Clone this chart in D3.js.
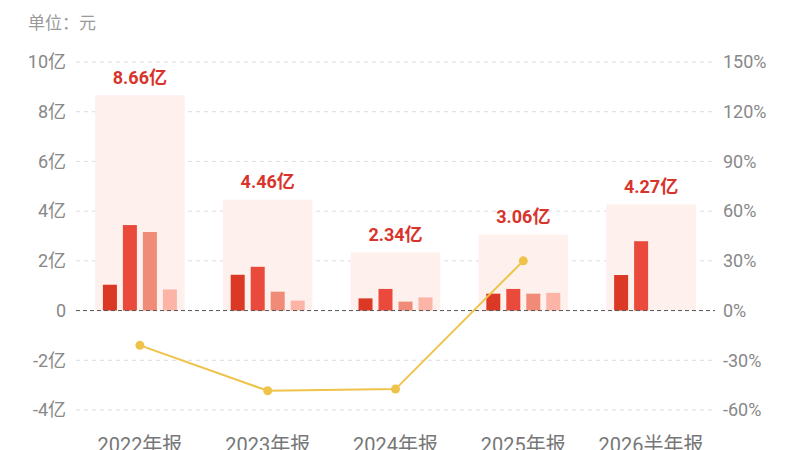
<!DOCTYPE html>
<html lang="zh">
<head>
    <meta charset="UTF-8">
    <title>利润柱状图</title>
    <script src="https://cdnjs.cloudflare.com/ajax/libs/d3/7.8.5/d3.min.js"></script>
    <style>
        body {
            margin: 0;
            padding: 0;
            background: #ffffff;
            font-family: Roboto, "Noto Sans CJK SC", sans-serif;
        }
        .grid line { stroke: #dddddd; stroke-dasharray: 4,4; }
        .zero-line { stroke: #555555; stroke-dasharray: 4,3; }
        .tick-label { fill: #888888; font-size: 18px; }
        .x-label { fill: #777777; font-size: 20px; }
        .total-label { fill: #d9342b; font-size: 18px; font-weight: bold; }
    </style>
</head>
<body>
    <div id="chart"></div>
    <script>
        // 数据
        const categories = ["2022年报", "2023年报", "2024年报", "2025年报", "2026半年报"];
        const totals = [8.66, 4.46, 2.34, 3.06, 4.27];
        const seriesA = [1.04, 1.44, 0.49, 0.68, 1.43];
        const seriesB = [3.44, 1.76, 0.87, 0.87, 2.79];
        const seriesC = [3.16, 0.76, 0.36, 0.68, null];
        const seriesD = [0.85, 0.40, 0.53, 0.71, null];
        const growth = [-21, -48.4, -47.4, 30, null];

        const leftTicks = [-4, -2, 0, 2, 4, 6, 8, 10];
        const rightTicks = [-60, -30, 0, 30, 60, 90, 120, 150];

        const barColors = ["#dc3826", "#e94a3b", "#f08b77", "#fbb4a6"];
        const allSeries = [seriesA, seriesB, seriesC, seriesD];

        const width = 800, height = 450;

        const svg = d3.select("#chart").append("svg")
            .attr("width", width)
            .attr("height", height);

        const x = d3.scaleBand()
            .domain(categories)
            .range([76, 715])
            .paddingInner(0.3)
            .paddingOuter(0.15);

        const xInner = d3.scaleBand()
            .domain([0, 1, 2, 3])
            .range([0, x.bandwidth()])
            .paddingInner(0.3)
            .paddingOuter(0.3875);

        const y = d3.scaleLinear().domain([-4, 10]).range([410, 62]);
        const y2 = d3.scaleLinear().domain([-60, 150]).range([410, 62]);

        // 单位
        svg.append("text")
            .attr("x", 28)
            .attr("y", 29)
            .attr("fill", "#999999")
            .attr("font-size", 17)
            .text("单位：元");

        // 网格线
        svg.append("g").attr("class", "grid")
            .selectAll("line")
            .data(leftTicks.filter(d => d !== 0))
            .enter().append("line")
            .attr("x1", 76).attr("x2", 715)
            .attr("y1", d => y(d)).attr("y2", d => y(d));

        // 背景柱（合计）
        svg.append("g")
            .selectAll("rect")
            .data(totals)
            .enter().append("rect")
            .attr("x", (d, i) => x(categories[i]))
            .attr("width", x.bandwidth())
            .attr("y", d => y(d))
            .attr("height", d => y(0) - y(d))
            .attr("fill", "#fef0ec");

        // 分项柱
        allSeries.forEach((series, s) => {
            svg.append("g")
                .selectAll("rect")
                .data(series.map((v, i) => ({v, i})).filter(d => d.v !== null))
                .enter().append("rect")
                .attr("x", d => x(categories[d.i]) + xInner(s))
                .attr("width", xInner.bandwidth())
                .attr("y", d => y(Math.max(0, d.v)))
                .attr("height", d => Math.abs(y(d.v) - y(0)))
                .attr("fill", barColors[s]);
        });

        // 零线
        svg.append("line")
            .attr("class", "zero-line")
            .attr("x1", 76).attr("x2", 715)
            .attr("y1", y(0)).attr("y2", y(0));

        // 合计标签
        svg.append("g")
            .selectAll("text")
            .data(totals)
            .enter().append("text")
            .attr("class", "total-label")
            .attr("x", (d, i) => x(categories[i]) + x.bandwidth() / 2)
            .attr("y", d => y(d) - 18)
            .attr("dy", "0.35em")
            .attr("text-anchor", "middle")
            .text(d => d.toFixed(2) + "亿");

        // 增长率折线
        const linePts = growth.map((v, i) => ({v, i})).filter(d => d.v !== null);
        const line = d3.line()
            .x(d => x(categories[d.i]) + x.bandwidth() / 2)
            .y(d => y2(d.v));

        svg.append("path")
            .datum(linePts)
            .attr("d", line)
            .attr("fill", "none")
            .attr("stroke", "#efc24a")
            .attr("stroke-width", 2);

        svg.append("g")
            .selectAll("circle")
            .data(linePts)
            .enter().append("circle")
            .attr("cx", d => x(categories[d.i]) + x.bandwidth() / 2)
            .attr("cy", d => y2(d.v))
            .attr("r", 4.5)
            .attr("fill", "#efc24a");

        // 左轴标签
        svg.append("g")
            .selectAll("text")
            .data(leftTicks)
            .enter().append("text")
            .attr("class", "tick-label")
            .attr("x", 66)
            .attr("y", d => y(d))
            .attr("dy", "0.35em")
            .attr("text-anchor", "end")
            .text(d => d === 0 ? "0" : d + "亿");

        // 右轴标签
        svg.append("g")
            .selectAll("text")
            .data(rightTicks)
            .enter().append("text")
            .attr("class", "tick-label")
            .attr("x", 723)
            .attr("y", d => y2(d))
            .attr("dy", "0.35em")
            .text(d => d + "%");

        // X轴标签（参考图中底部被截断）
        svg.append("g")
            .selectAll("text")
            .data(categories)
            .enter().append("text")
            .attr("class", "x-label")
            .attr("x", d => x(d) + x.bandwidth() / 2)
            .attr("y", 452)
            .attr("text-anchor", "middle")
            .text(d => d);
    </script>
</body>
</html>
